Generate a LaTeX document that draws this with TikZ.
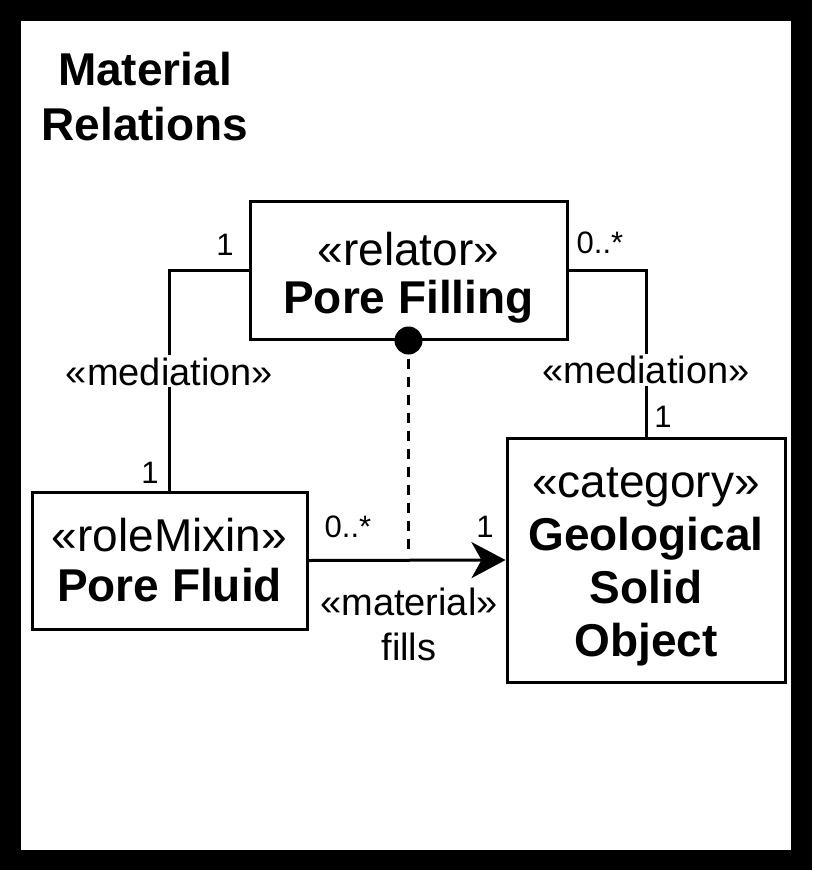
\documentclass[tikz,border=0pt]{standalone}
\usepackage{fontspec}
\setmainfont{Liberation Sans}
\usetikzlibrary{arrows.meta,positioning,calc}

\begin{document}
\begin{tikzpicture}[x=1pt, y=-1pt,
    classbox/.style={rectangle, draw, line width=3pt, inner sep=0pt},
    classtext/.style={align=center, inner sep=0pt, font=\fontsize{46}{50}\selectfont},
    stereo/.style={fill=white, inner sep=2pt, align=center,
                   font=\fontsize{38}{45}\selectfont},
    mult/.style={inner sep=0pt, font=\fontsize{31}{36}\selectfont},
    link/.style={line width=3pt},
    >={Stealth[length=34pt, width=36pt, inset=10pt]}
  ]
    % frame
    \fill[black] (0,0) rectangle (812,870);
    \fill[white] (21,21) rectangle (791,850);

    \node[align=center, font=\fontsize{46}{55}\selectfont\bfseries] (title) at (145,97)
      {Material\\Relations};

    % classes
    \node[classbox, minimum width=317pt, minimum height=138pt] (filling) at (408.5,270) {};
    \node[classtext, font=\fontsize{46}{48}\selectfont] (fillingtext) at ($(filling)+(0,8)$)
      {«relator»\\\textbf{Pore Filling}};
    \node[classbox, minimum width=275pt, minimum height=137pt] (fluid) at (169.5,560.5) {};
    \node[classtext] (fluidtext) at (fluid) {«roleMixin»\\\textbf{Pore Fluid}};
    \node[classbox, minimum width=278pt, minimum height=244pt] (solid) at (646,560) {};
    \node[classtext, font=\fontsize{46}{53}\selectfont] (solidtext) at ($(solid)+(0,7)$)
      {«category»\\\textbf{Geological}\\\textbf{Solid}\\\textbf{Object}};

    % mediations
    \draw[link] (filling.west) -| node[stereo, pos=0.73] (medleft) {«mediation»} (fluid.north);
    \draw[link] (filling.east) -| node[stereo, pos=0.80] (medright) {«mediation»} (solid.north);
    \node[mult] (mfillleft) at (225,245) {1};
    \node[mult] (mfluidtop) at (150,473) {1};
    \node[mult] (mfillright) at (600,243) {0..*};
    \node[mult] (msolidtop) at (663,417) {1};

    % material relation
    \draw[link, ->] (fluid.east) -- (solid.west);
    \node[stereo, fill=none] (matlabel) at (409,624.5) {«material»\\fills};
    \node[mult] (mfluidright) at (348,527) {0..*};
    \node[mult] (msolidleft) at (485,527) {1};

    % derivation
    \coordinate (dashend) at (408.5,552);
    \draw[link, dash pattern=on 10pt off 8pt] (filling.south) -- (dashend);
    \fill (filling.south) circle (14pt);
  \end{tikzpicture}
\end{document}
